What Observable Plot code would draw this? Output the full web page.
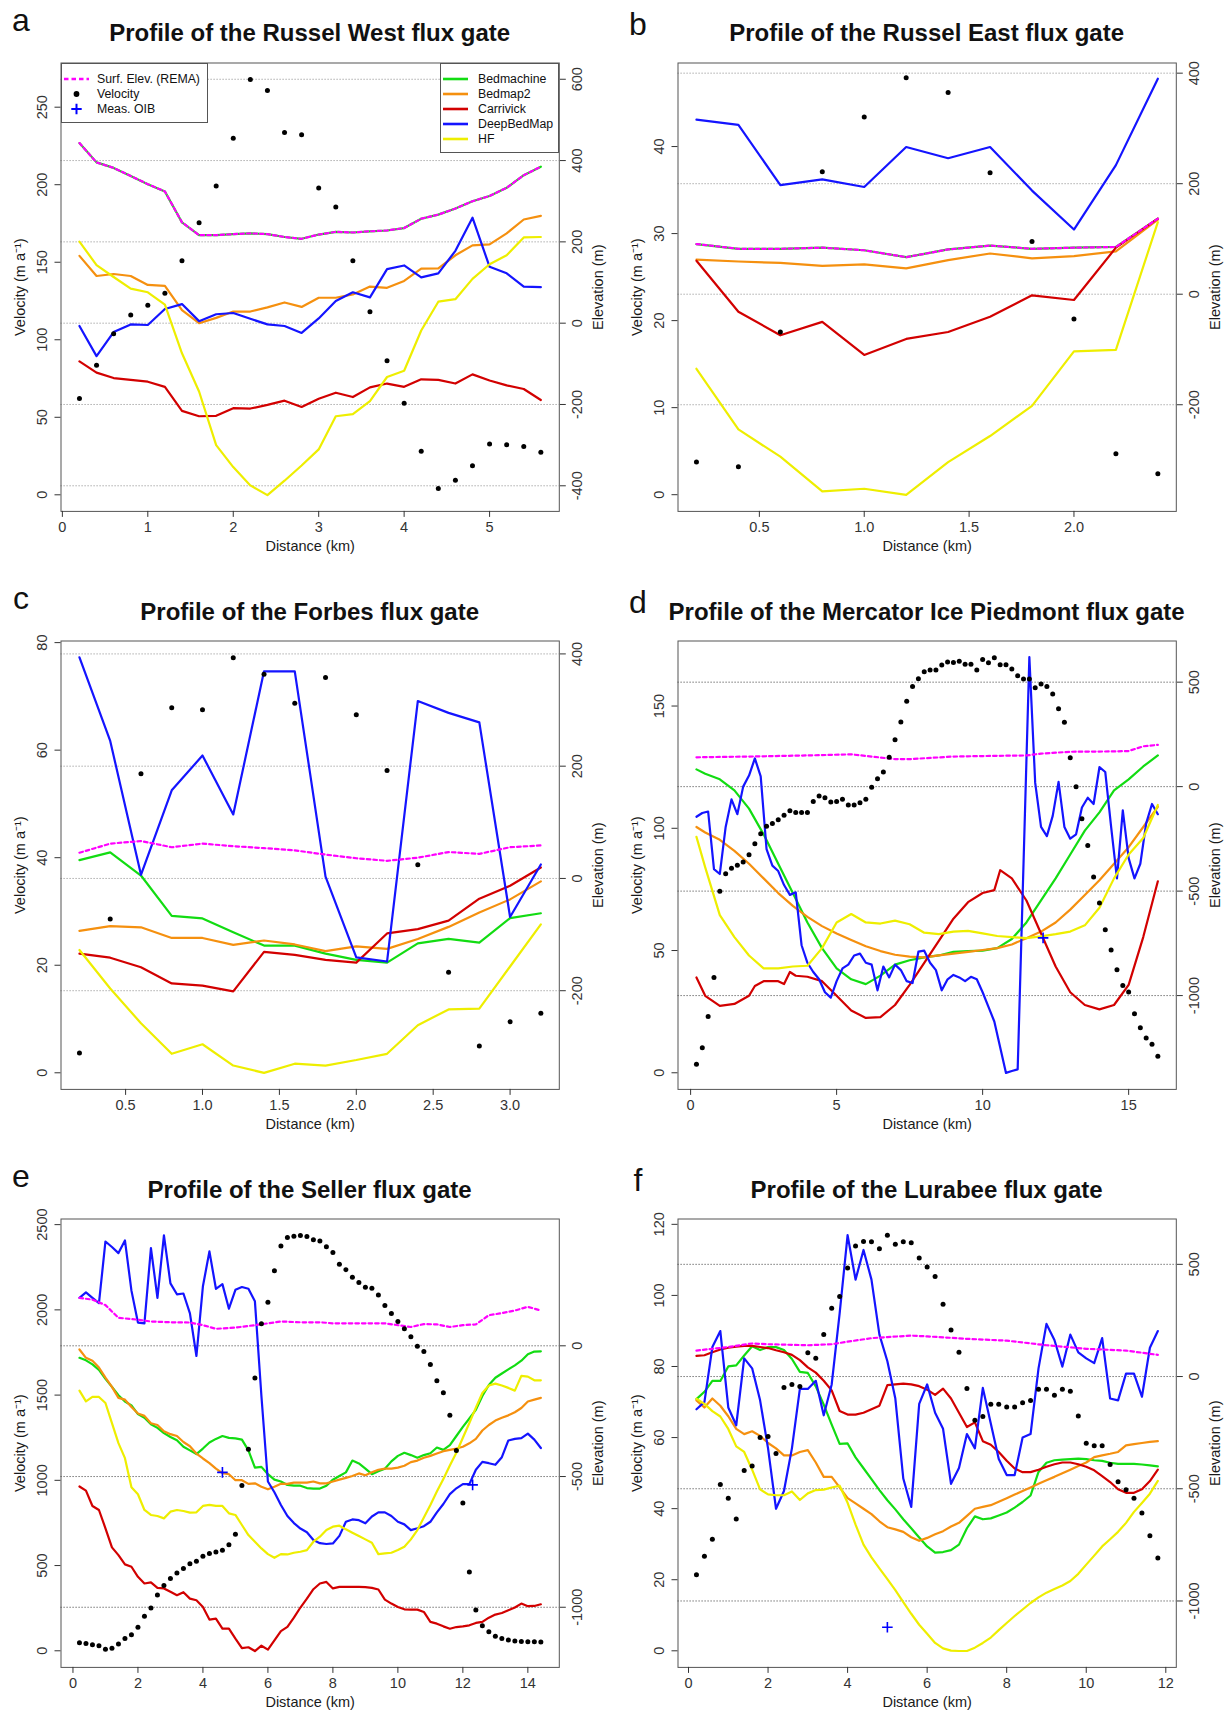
<!DOCTYPE html>
<html><head><meta charset="utf-8">
<script src="https://cdn.jsdelivr.net/npm/d3@7"></script>
<script src="https://cdn.jsdelivr.net/npm/@observablehq/plot@0.6"></script>
<style>
html,body{margin:0;padding:0;background:#fff;}
body{width:1230px;height:1715px;position:relative;overflow:hidden;font-family:"Liberation Sans",Arial,Helvetica,sans-serif;color:#111;}
.panel{position:absolute;width:615px;height:578px;}
.letter{position:absolute;font-size:32px;line-height:32px;width:40px;text-align:center;}
.title{position:absolute;font-weight:bold;font-size:24px;line-height:24px;white-space:nowrap;transform:translateX(-50%);}
.legend{position:absolute;background:#fff;border:1px solid #555;box-sizing:border-box;font-size:12.3px;}
.legend .row{position:absolute;left:0;height:14px;line-height:14px;white-space:nowrap;}
.legend svg{position:absolute;}
</style></head><body>
<script>
// ---------------- DATA ----------------
// Panel a: Russel West
const distA = [0.2,0.4,0.6,0.8,1.0,1.2,1.4,1.6,1.8,2.0,2.2,2.4,2.6,2.8,3.0,3.2,3.4,3.6,3.8,4.0,4.2,4.4,4.6,4.8,5.0,5.2,5.4,5.6];
const velA = [62.1,83.6,103.8,116,122.3,130,150.9,175.5,199.2,229.9,267.8,260.8,233.6,232.2,197.8,185.6,150.9,118.1,86.5,59,28.1,4,9.4,18.7,32.8,32.3,31.2,27.4];
const surfA = [443,395.5,382,362,342,324,248,216.5,216.5,219,221,219,212,207.6,218,224.6,223,226,228,234,257,267,282,300,313,333,364,385];
const bedmachineA = [443,395.5,382,362,342,324,248,216.5,216.5,219,221,219,212,207.6,218,224.6,223,226,228,234,257,267,282,300,313,333,364,385];
const bedmap2A = [165.5,116,121,116,94,92,32,0,13,28.6,28.6,39,51,40,62.6,62.6,70.7,90,87,104,134,135,167,191.5,194,221,255,264];
const carrivickA = [-94,-121.7,-135,-139.6,-144,-156.6,-215.7,-229,-228,-209,-210,-201,-190.6,-206,-186,-171,-181.7,-158,-148.5,-156.6,-138,-139.6,-148.5,-126,-141,-153,-162,-189];
const deepA = [-7,-81,-22,-3,-4.5,35,47,5,22,25,10.7,-3,-7,-24,11.6,54.6,76,63.5,133,142,112.8,122.6,178,259.5,138.7,122.6,90,88.6];
const hfA = [200.4,143,113.6,85,76,45.6,-74,-168,-300,-354,-399,-423,-387.5,-350,-310.5,-229,-223.7,-191.5,-132.4,-117,-18,52.8,59,109,145,167,211,212];

// Panel b: Russel East
const distB = [0.2,0.4,0.6,0.8,1.0,1.2,1.4,1.6,1.8,2.0,2.2,2.4];
const velB = [3.77,3.2,18.7,37.1,43.4,47.9,46.2,37.0,29.1,20.2,4.7,2.4];
const surfB = [90.8,82.2,82.2,84.2,79.6,67,81,88,82.2,84.2,85.5,136.8];
const bedmachineB = [90.8,82.2,82.2,84.2,79.6,67,81,88,82.2,84.2,85.5,136.8];
const bedmap2B = [62.5,59.2,56.6,51.3,54,46.7,61.8,73.7,65,69,77.6,134.9];
const carrivickB = [60.5,-31.6,-74.3,-50,-109.9,-80.9,-68.4,-40.8,-2,-10.5,84.2,136.8];
const deepB = [315.8,306.6,197.4,207.9,194,266.4,246,266.4,187.5,117,233.6,390];
const hfB = [-134.9,-244.7,-294,-356.6,-352,-363,-303.9,-256.6,-202,-103.3,-100.7,130.3];

// Panel c: Forbes
const distC = [0.2,0.4,0.6,0.8,1.0,1.2,1.4,1.6,1.8,2.0,2.2,2.4,2.6,2.8,3.0,3.2];
const velC = [3.7,28.6,55.6,67.9,67.5,77.2,74.1,68.7,73.5,66.6,56.2,38.7,18.7,5.0,9.5,11.05];
const surfC = [45.8,62,66.7,55.6,62,57.5,54,50,42.5,36,31.4,37,47,43.8,55.6,58.8];
const bedmachineC = [32.7,46.4,5.2,-66.7,-71.2,-96,-119.6,-119.6,-134,-145,-150,-115.7,-107.8,-114.4,-70.6,-62];
const bedmap2C = [-93.5,-85,-87,-106,-106,-118.3,-110.5,-117.6,-129.4,-121,-125.5,-107.8,-86.3,-60.8,-37.3,-5.2];
const carrivickC = [-134,-141.2,-158.2,-187,-191,-201.3,-130.7,-136,-145,-150,-98,-90.2,-75.2,-36,-13,19.6];
const deepC = [394,245,6.5,157,219,114,369,369,3.3,-140.5,-148,316,295,278,-68.6,24.8];
const hfC = [-127.5,-196,-258,-312.4,-295.4,-333.3,-346.4,-330,-333.3,-323.5,-312.4,-261.4,-233.3,-232,-156.9,-81.7];

// Panel d: Mercator Ice Piedmont
const distD = [0.2,0.4,0.6,0.8,1,1.2,1.4,1.6,1.8,2,2.2,2.4,2.6,2.8,3,3.2,3.4,3.6,3.8,4,4.2,4.4,4.6,4.8,5,5.2,5.4,5.6,5.8,6,6.2,6.4,6.6,6.8,7,7.2,7.4,7.6,7.8,8,8.2,8.4,8.6,8.8,9,9.2,9.4,9.6,9.8,10,10.2,10.4,10.6,10.8,11,11.2,11.4,11.6,11.8,12,12.2,12.4,12.6,12.8,13,13.2,13.4,13.6,13.8,14,14.2,14.4,14.6,14.8,15,15.2,15.4,15.6,15.8,16];
const velD = [3.5,10.2,23,39,74.2,81.4,83.7,84.9,86.2,89.2,93.7,97.8,100.8,102,103.5,105.3,107.2,106.5,106.5,106.5,111,113.2,112.5,110.7,111,111.9,109.5,109.5,110.4,111.9,116.8,120.3,123,129.1,136.2,143.5,152,158,161.2,164,164.7,164.7,166.8,168,167.8,168.3,167.1,167.1,164.7,169,167.7,169.8,166.9,166.9,165.1,162.4,161.1,161.1,157.5,159,158,154.9,148.9,143.4,128.8,117,103.9,93,80.1,69.4,58.5,50.2,42.1,35.7,33,24.1,18.4,14.2,11.7,6.75];
const deepD = [-144,-126,-119,-395,-418,-193,-61,-132,0,53,135,49,-299,-378,-404,-471,-518,-506,-759,-843,-887,-922,-984,-1010,-931,-870,-852,-808,-799,-843,-852,-975,-861,-913,-852,-878,-931,-940,-790,-785,-843,-878,-975,-922,-901,-913,-931,-910,-922,-984,-1054,-1124,-1247,-1370,-1361,-1353,-369,620,18,-193,-237,-140,23,-193,-249,-228,-100,-53,-83,93,70,-193,-439,-114,-342,-439,-369,-176,-83,-132];
const smoothXD = [0.2,0.5,1,1.5,2,2.5,3,3.5,4,4.5,5,5.5,6,6.5,7,7.5,8,8.5,9,9.5,10,10.5,11,11.5,12,12.5,13,13.5,14,14.5,15,15.5,16];
const bedmachineD = [82.6,61.5,35.1,-17.6,-105.4,-228.4,-368.9,-509.4,-649.9,-772.9,-869.5,-922.2,-945,-904.6,-851.9,-830.8,-816.8,-808,-790.4,-787,-785.2,-772.9,-729,-650,-544.5,-439,-325,-210.8,-123,-17.6,35.1,96.6,149.3];
const bedmap2D = [-193.2,-219.6,-254.7,-307.4,-368.9,-439.1,-509.4,-570.9,-623.6,-667.5,-702.6,-734.2,-764.1,-787,-804.5,-813.3,-816.8,-808,-799.2,-790.4,-781.7,-772.9,-755.3,-725.4,-693.8,-650,-588.5,-518.2,-447.9,-368.9,-289.8,-193.2,-96.6];
const hfD = [-240.6,-386.4,-614.8,-720.2,-808,-869.5,-869.5,-860.7,-857.2,-772.9,-649.9,-609.5,-649.9,-655.2,-641.1,-658.7,-699.1,-706.1,-693.8,-690.3,-702.6,-714.9,-720.2,-725.4,-716.7,-706.1,-693.8,-663.9,-579.6,-439.1,-325,-245.9,-87.8];
const carrivickXD = [0.2,0.5,1,1.5,2,2.2,2.5,3,3.2,3.4,3.6,4,4.5,5,5.5,6,6.5,7,7.5,8,8.5,9,9.5,10,10.4,10.6,11,11.5,12,12.5,13,13.5,14,14.5,15,15.5,16];
const carrivickD = [-913,-1001,-1049,-1040,-1001,-954,-931,-931,-945,-887,-905,-910,-931,-1001,-1071,-1107,-1103,-1045,-949,-843,-738,-632,-553,-509,-495,-400,-439,-545,-703,-861,-984,-1045,-1066,-1045,-949,-720,-453];
const surfXD = [0.2,2,4,5.5,7,7.5,9,10.5,11.5,12,13,14.5,15,15.5,16];
const surfD = [140.5,144,149.3,154.6,131.7,131.7,144,147.5,149.3,158,166.9,168.6,170.4,193,200];
const oibXD = [12.07];
const oibD = [-724];

// Panel e: Seller
const distE = [0.2,0.4,0.6,0.8,1,1.2,1.4,1.6,1.8,2,2.2,2.4,2.6,2.8,3,3.2,3.4,3.6,3.8,4,4.2,4.4,4.6,4.8,5,5.2,5.4,5.6,5.8,6,6.2,6.4,6.6,6.8,7,7.2,7.4,7.6,7.8,8,8.2,8.4,8.6,8.8,9,9.2,9.4,9.6,9.8,10,10.2,10.4,10.6,10.8,11,11.2,11.4,11.6,11.8,12,12.2,12.4,12.6,12.8,13,13.2,13.4,13.6,13.8,14,14.2,14.4];
const velE = [47,43,36,30,8.5,15,40,72,94,138,202,251,328,383,424,456,483,511,526,554,571,579,590,622,684,969,1182,1601,1919,2044,2230,2374,2425,2432,2436,2430,2411,2404,2370,2336,2268,2236,2191,2161,2132,2127,2087,2025,1978,1931,1889,1842,1787,1755,1680,1584,1514,1382,1175,867,462,239,147,111,85,72,64,57,55,53,53,51];
const bedmachineE = [-46,-55.6,-71,-92,-126.5,-157,-189,-213,-228,-261,-275,-300,-314,-334,-349,-361,-386,-400,-414,-393,-370,-356,-345,-352,-354,-359,-400,-466,-463,-491,-512,-519,-532,-535,-535,-544,-546,-546,-535,-512,-498,-484,-439,-450,-470,-491,-480,-470,-442,-421,-409,-418,-428,-418,-411,-389,-398,-380,-345,-310,-278,-245,-192,-150,-122,-106,-90,-75,-57,-32,-22,-21];
const bedmap2E = [-14,-46,-57,-83,-122,-157,-199,-206,-234,-259,-268,-296,-303,-327,-338,-345,-368,-384,-412,-431,-449,-470,-487,-491,-514,-514,-528,-526,-539,-549,-539,-528,-528,-523,-523,-523,-519,-526,-526,-519,-512,-505,-498,-488,-495,-484,-474,-470,-470,-466,-459,-445,-439,-428,-421,-412,-403,-398,-393,-386,-373,-356,-324,-303,-286,-275,-266,-254,-238,-213,-206,-199];
const carrivickE = [-538,-554,-612.5,-628,-698,-771,-800.5,-836,-845,-883.6,-909,-905,-926,-928,-941,-954,-942.5,-967,-973,-998.7,-1047,-1043.5,-1082,-1082,-1120,-1156,-1153,-1167.5,-1147,-1162,-1126.6,-1091,-1075,-1039.7,-1001,-967,-931,-909,-903,-928,-922,-922,-922,-922,-923,-926,-932,-970.6,-986,-998.7,-1007.7,-1009,-1009,-1018,-1056,-1062.7,-1073,-1082,-1075.6,-1073,-1069,-1060,-1056,-1039.7,-1028,-1022,-1011.5,-1001,-986,-996,-995,-988.5];
const deepE = [183.5,204,183.5,163,399,378,354.5,403,211,89,86,374,183.5,422.6,239,197,200,124,-39,228,361,218,236,142,214,225,218,170,-192,-519,-560,-609,-651,-678,-699,-713,-743,-755,-758,-756,-727,-673,-664,-667,-679,-653,-637,-637,-651,-673,-683,-705,-698,-690,-673,-637,-605,-567,-545,-529,-529,-474,-444,-449,-455,-426,-362,-356,-353,-336,-359,-391];
const hfE = [-171.4,-212.3,-195.6,-195.6,-218.7,-295.4,-372,-429.7,-541,-567.8,-627.9,-647,-651,-660,-634.3,-627.9,-631.7,-638,-636.8,-612.5,-608.7,-612.5,-612.5,-640.7,-647,-685.4,-723.8,-749.4,-775,-796.7,-810.7,-796.7,-798,-791.6,-787.7,-781.3,-749.4,-730.2,-704.6,-691.8,-688,-702,-714.8,-727.6,-740.4,-753.2,-796.7,-794,-791.6,-781.3,-768.5,-740.4,-704.6,-657,-608.7,-557.5,-509,-457.8,-409,-351.7,-295.4,-236.6,-180.3,-152,-144.5,-152,-161,-171.4,-115,-118,-132,-132];
const surfXE = [0.2,0.6,1.0,1.4,2.0,2.4,3.0,3.6,4.0,4.4,5.0,5.6,6.0,6.4,7.0,7.6,8.0,9.0,9.6,10.0,10.4,10.8,11.2,11.6,12.0,12.4,12.8,13.2,13.6,14.0,14.4];
const surfE = [183.5,176.6,155.7,107,100,93,90,89,79,65,69.5,79,86,93,90,90,86,86,86,79,72,83,82,72,79,82,117,125,135,149,135];
const oibXE = [4.6,12.3];
const oibE = [-484,-532];

// Panel f: Lurabee
const distF = [0.2,0.4,0.6,0.8,1,1.2,1.4,1.6,1.8,2,2.2,2.4,2.6,2.8,3,3.2,3.4,3.6,3.8,4,4.2,4.4,4.6,4.8,5,5.2,5.4,5.6,5.8,6,6.2,6.4,6.6,6.8,7,7.2,7.4,7.6,7.8,8,8.2,8.4,8.6,8.8,9,9.2,9.4,9.6,9.8,10,10.2,10.4,10.6,10.8,11,11.2,11.4,11.6,11.8];
const velF = [21.4,26.6,31.4,46.8,42.9,37.1,50.7,52,60,60.3,55.5,74.1,74.9,74.4,83.9,82.3,89,96.4,99.7,107.7,113.9,115.2,115.1,113.1,116.9,114.4,115.1,114.8,110.5,108,105.3,97.5,90.3,84,73.8,64.9,65.9,69.4,69.4,68.6,68.6,69.8,70.4,73.6,73.6,71.9,73.6,73,66.1,58.4,57.7,57.7,52.4,47.6,45.3,42.9,38.8,32.4,26.1];
const bedmachineF = [-100.5,-68,-19.5,-19.5,45,50,94,134.6,118,131,131,118,78,21,16,-44,-125,-214,-300,-298,-360,-408.6,-457,-506,-551,-592,-636,-676,-717,-757,-785,-782,-773.5,-749,-676,-623,-636,-632,-619,-606,-584,-559,-530,-425,-384,-373,-370,-368,-366,-368,-373,-376,-384,-389,-389,-389,-392,-396,-400];
const bedmap2F = [-106,-138,-98,-130,-177,-233,-256.4,-244,-264.5,-296,-320,-351.4,-351.4,-336,-328,-383,-447,-447,-494,-542,-565,-589,-613,-645,-671.4,-681,-692,-716,-732,-719,-703,-689,-668,-652,-621,-589,-581,-573,-557.4,-542,-526,-510,-494,-478,-462,-447,-431,-415,-399,-383,-359,-351,-344,-336,-307,-301,-296,-291,-288];
const carrivickF = [92,95,108,120.5,128.4,133,136.3,136.3,131.5,127,117,108,96.7,73,41,17.5,-19,-61.7,-153.5,-169.4,-169.4,-161.5,-145.6,-130,-38,-35,-31.6,-35,-43,-58.5,-82,-54,-98,-161.5,-225,-204,-288,-304,-336,-375.3,-410,-426,-426,-415,-402,-391,-383,-383,-391,-402,-418,-443.4,-470,-502,-518,-518,-502,-465.5,-415];
const deepF = [-145.6,-114,131.5,202.8,-137.7,-217,81,36.6,-106,-320,-589,-510,-320,-55.3,-55.3,-19,-172.5,-35,282,630,432,564,432,187,68,-98,-454.4,-581,-122,-35,-161.5,-233,-478,-407,-256.5,-320,-50.6,-209,-367.3,-439,-439,-272,-256.5,36.6,234.5,163,44.4,187,107.8,81,60,171,-98,-106,12.8,12.8,-90,128.4,202.8];
const hfF = [-99,-121.6,-154,-178,-233.5,-311,-336,-415,-503,-525,-529,-529,-512,-550,-520.5,-506,-504,-494.6,-486.5,-562.7,-660,-749,-806,-854.6,-903,-952,-1005,-1057,-1106,-1146,-1187,-1211,-1221,-1223,-1223,-1208,-1187,-1163,-1130,-1098,-1067,-1038,-1009,-984,-963,-947,-931,-911,-879,-838,-798,-757,-725,-692,-652,-603,-563,-522,-465];
const surfXF = [0.2,1.0,1.6,2.0,3.0,3.6,4.0,4.6,5.0,5.6,6.0,7.0,8.0,9.0,10.0,11.0,11.8];
const surfF = [115.7,131.5,147.4,144,139.5,144,155.3,171,176,182.3,179,168,160,139.5,123.6,115.7,96.7];
const oibXF = [5.0];
const oibF = [-1117];

// Text
const titles = ["Profile of the Russel West flux gate","Profile of the Russel East flux gate","Profile of the Forbes flux gate","Profile of the Mercator Ice Piedmont flux gate","Profile of the Seller flux gate","Profile of the Lurabee flux gate"];
const letters = ["a","b","c","d","e","f"];
const seriesNames = ["Bedmachine","Bedmap2","Carrivick","DeepBedMap","HF"];

// ---------------- STYLE ----------------
const FONT = '"Liberation Sans", Arial, Helvetica, sans-serif';
const COL = {bedmachine:"#12dc12", bedmap2:"#f5900f", carrivick:"#d20000", deep:"#1414ff", hf:"#eeee00", surf:"#ff00ff"};
const SURF_DASH = "3.6,3";
const BOX = {left:60.5, top:62.5, width:498.3, height:448.4};
const PW = 615, PH = 578;
const COLX = [0, 617], ROWY = [0, 578.3, 1156.3];
const AX = "#333";

function makePanel(p) {
  const div = document.createElement("div");
  div.className = "panel";
  div.style.left = COLX[p.col] + "px";
  div.style.top = ROWY[p.row] + "px";
  document.body.appendChild(div);

  const common = {
    width: PW, height: PH,
    marginLeft: BOX.left, marginTop: BOX.top,
    marginRight: PW - BOX.left - BOX.width,
    marginBottom: PH - BOX.top - BOX.height,
    style: {background:"transparent", overflow:"visible", fontFamily:FONT, fontSize:"14.5px", color:"#1a1a1a", position:"absolute", left:"0px", top:"0px"}
  };
  const lineMarks = p.lines.map(s => Plot.line(s.y, Object.assign({x: s.x, y: s.y, stroke: s.color, strokeWidth: 2.2}, s.dash ? {strokeDasharray: s.dash} : {})));
  const elevMarks = [
    Plot.ruleY(p.eTicks, {stroke: p.gridColor || "#777", strokeDasharray:"1.2,1.8", strokeWidth:1}),
    ...lineMarks
  ];
  if (p.oib) elevMarks.push(Plot.dot(p.oib.y, {x: p.oib.x, y: p.oib.y, symbol:"plus", r:3.5, stroke:"#0000ff", strokeWidth:1.6}));
  elevMarks.push(
    Plot.axisY({ticks: p.eTicks, anchor:"right", tickSize:6, tickPadding:6, tickRotate:-90, lineAnchor:"top", tickFormat: d => String(d), label:null, color: AX}),
    Plot.text(["Elevation (m)"], {frameAnchor:"right", textAnchor:"middle", dx:39.5, rotate:-90, text: d => d}),
    Plot.frame({stroke:"#555", strokeWidth:1})
  );
  const elev = Plot.plot(Object.assign({}, common, {
    x: {domain: p.xDomain, axis: null},
    y: {domain: p.eDomain},
    marks: elevMarks
  }));

  const vel = Plot.plot(Object.assign({}, common, {
    x: {domain: p.xDomain},
    y: {domain: p.vDomain},
    marks: [
      Plot.dot(p.vel, {x: p.velX, y: p.vel, r:2.5, fill:"#000", stroke:"none"}),
      Plot.axisY({ticks: p.vTicks, anchor:"left", tickSize:6, tickPadding:8, tickRotate:-90, tickFormat: d => String(d), label:null, color: AX}),
      Plot.axisX({ticks: p.xTicks, tickSize:6, tickPadding:4, tickFormat: p.xFormat || (d => String(d)), label:null, color: AX}),
      Plot.text(["Velocity (m a\u207B\u00B9)"], {frameAnchor:"left", textAnchor:"middle", dx:-41, rotate:-90, text: d => d}),
      Plot.text(["Distance (km)"], {frameAnchor:"bottom", textAnchor:"middle", dy:40, text: d => d})
    ]
  }));
  div.appendChild(elev);
  div.appendChild(vel);

  const letter = document.createElement("div");
  letter.className = "letter";
  letter.textContent = p.letter;
  letter.style.left = "1px";
  letter.style.top = (p.col === 0 ? 4 : 7.5) + "px";
  div.appendChild(letter);

  const title = document.createElement("div");
  title.className = "title";
  title.textContent = p.title;
  title.style.left = (BOX.left + BOX.width / 2) + "px";
  title.style.top = "21.3px";
  div.appendChild(title);
  return div;
}

function swatchLine(color, dash) {
  return `<svg width="28" height="14" style="left:2px;top:0"><line x1="0" y1="7" x2="25" y2="7" stroke="${color}" stroke-width="2.6" ${dash ? `stroke-dasharray="${dash}"` : ""}/></svg>`;
}

function addLegends(div) {
  const L = document.createElement("div");
  L.className = "legend";
  L.style.left = BOX.left + "px"; L.style.top = BOX.top + "px";
  L.style.width = "147px"; L.style.height = "60px";
  const leftEntries = [
    {label:"Surf. Elev. (REMA)", sw: swatchLine(COL.surf, "4.5,3")},
    {label:"Velocity", sw: `<svg width="28" height="14" style="left:2px;top:0"><circle cx="12.5" cy="7" r="2.9" fill="#000"/></svg>`},
    {label:"Meas. OIB", sw: `<svg width="28" height="14" style="left:2px;top:0"><path d="M12.5 1.8V12.2M7.3 7H17.7" stroke="#0000ff" stroke-width="2"/></svg>`}
  ];
  leftEntries.forEach((e, i) => {
    const r = document.createElement("div");
    r.className = "row";
    r.style.top = (8.5 + i * 15) + "px";
    r.innerHTML = e.sw + `<span style="position:absolute;left:35.5px;top:0">${e.label}</span>`;
    L.appendChild(r);
  });
  div.appendChild(L);

  const R = document.createElement("div");
  R.className = "legend";
  R.style.left = "440px"; R.style.top = BOX.top + "px";
  R.style.width = (BOX.left + BOX.width - 440) + "px"; R.style.height = "90px";
  const cols = [COL.bedmachine, COL.bedmap2, COL.carrivick, COL.deep, COL.hf];
  seriesNames.forEach((name, i) => {
    const r = document.createElement("div");
    r.className = "row";
    r.style.top = (8 + i * 15.2) + "px";
    r.innerHTML = swatchLine(cols[i]) + `<span style="position:absolute;left:37px;top:0">${name}</span>`;
    R.appendChild(r);
  });
  div.appendChild(R);
}

function five(x, surfX, surf, bm, b2, ca, dp, hf, opts) {
  opts = opts || {};
  return [
    {x: opts.bmX || x, y: bm, color: COL.bedmachine},
    {x: opts.b2X || x, y: b2, color: COL.bedmap2},
    {x: opts.caX || x, y: ca, color: COL.carrivick},
    {x: x, y: dp, color: COL.deep},
    {x: opts.hfX || x, y: hf, color: COL.hf},
    {x: surfX, y: surf, color: COL.surf, dash: SURF_DASH}
  ];
}

const oneDec = d => d.toFixed(1);

const pa = makePanel({col:0, row:0, letter:letters[0], title:titles[0],
  xDomain:[-0.016, 5.816], xTicks:[0,1,2,3,4,5],
  vDomain:[-10.7, 278.5], vTicks:[0,50,100,150,200,250],
  eDomain:[-463, 640], eTicks:[-400,-200,0,200,400,600], gridColor:"#999",
  vel: velA, velX: distA,
  lines: five(distA, distA, surfA, bedmachineA, bedmap2A, carrivickA, deepA, hfA)});
addLegends(pa);

makePanel({col:1, row:0, letter:letters[1], title:titles[1],
  xDomain:[0.112, 2.488], xTicks:[0.5,1.0,1.5,2.0], xFormat: oneDec,
  vDomain:[-1.92, 49.6], vTicks:[0,10,20,30,40],
  eDomain:[-393, 418.4], eTicks:[-200,0,200,400], gridColor:"#999",
  vel: velB, velX: distB,
  lines: five(distB, distB, surfB, bedmachineB, bedmap2B, carrivickB, deepB, hfB)});

makePanel({col:0, row:1, letter:letters[2], title:titles[2],
  xDomain:[0.08, 3.32], xTicks:[0.5,1.0,1.5,2.0,2.5,3.0], xFormat: oneDec,
  vDomain:[-3.09, 80.3], vTicks:[0,20,40,60,80],
  eDomain:[-375.8, 423], eTicks:[-200,0,200,400], gridColor:"#999",
  vel: velC, velX: distC,
  lines: five(distC, distC, surfC, bedmachineC, bedmap2C, carrivickC, deepC, hfC)});

makePanel({col:1, row:1, letter:letters[3], title:titles[3],
  xDomain:[-0.432, 16.632], xTicks:[0,5,10,15],
  vDomain:[-6.8, 176.6], vTicks:[0,50,100,150],
  eDomain:[-1449, 697], eTicks:[-1000,-500,0,500], gridColor:"#555",
  vel: velD, velX: distD,
  oib: {x: oibXD, y: oibD},
  lines: five(distD, surfXD, surfD, bedmachineD, bedmap2D, carrivickD, deepD, hfD, {bmX: smoothXD, b2X: smoothXD, hfX: smoothXD, caX: carrivickXD})});

makePanel({col:0, row:2, letter:letters[4], title:titles[4],
  xDomain:[-0.368, 14.968], xTicks:[0,2,4,6,8,10,12,14],
  vDomain:[-97.4, 2533], vTicks:[0,500,1000,1500,2000,2500],
  eDomain:[-1230, 485], eTicks:[-1000,-500,0], gridColor:"#555",
  vel: velE, velX: distE,
  oib: {x: oibXE, y: oibE},
  lines: five(distE, surfXE, surfE, bedmachineE, bedmap2E, carrivickE, deepE, hfE)});

makePanel({col:1, row:2, letter:letters[5], title:titles[5],
  xDomain:[-0.264, 12.264], xTicks:[0,2,4,6,8,10,12],
  vDomain:[-4.67, 121.5], vTicks:[0,20,40,60,80,100,120],
  eDomain:[-1296, 702], eTicks:[-1000,-500,0,500], gridColor:"#555",
  vel: velF, velX: distF,
  oib: {x: oibXF, y: oibF},
  lines: five(distF, surfXF, surfF, bedmachineF, bedmap2F, carrivickF, deepF, hfF)});
</script>
</body></html>
